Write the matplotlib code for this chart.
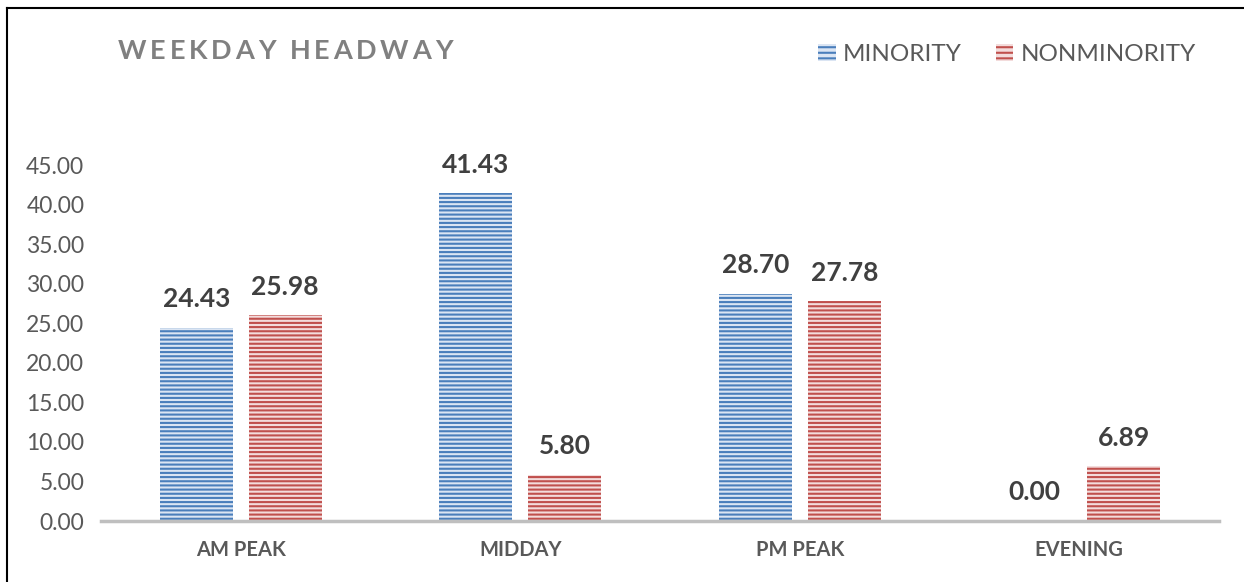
import matplotlib
matplotlib.use('Agg')
import matplotlib.pyplot as plt
from matplotlib.patches import Patch
from matplotlib.lines import Line2D
import numpy as np

# --- data ---
categories = ['AM PEAK', 'MIDDAY', 'PM PEAK', 'EVENING']
minority = [24.43, 41.43, 28.70, 0.00]
nonminority = [25.98, 5.80, 27.78, 6.89]
series_names = ['MINORITY', 'NONMINORITY']
yticks = [0, 5, 10, 15, 20, 25, 30, 35, 40, 45]
title = 'WEEKDAY HEADWAY'

BLUE, BLUE_BG = '#4a7ebb', '#dbe5f3'
RED, RED_BG = '#c0504d', '#f3dcdc'

plt.rcParams['font.family'] = ['Lato', 'DejaVu Sans']
plt.rcParams['hatch.linewidth'] = 1.5

W, H = 1244, 582
fig = plt.figure(figsize=(W / 100, H / 100), dpi=100)
ax = fig.add_axes([101 / W, 1 - 521 / H, (1219 - 101) / W, (521 - 165) / H])

x = np.arange(len(categories))
bw, off = 0.26, 0.159
b1 = ax.bar(x - off, minority, bw, facecolor=BLUE_BG, edgecolor=BLUE, hatch='----', linewidth=0)
b2 = ax.bar(x + off, nonminority, bw, facecolor=RED_BG, edgecolor=RED, hatch='----', linewidth=0)

for bars in (b1, b2):
    for r in bars:
        ax.annotate(f'{r.get_height():.2f}', (r.get_x() + r.get_width() / 2, r.get_height()),
                    xytext=(0, 12), textcoords='offset points', ha='center', va='bottom',
                    fontsize=19, fontweight='bold', color='#404040')

ax.set_xlim(-0.5, len(categories) - 0.5)
ax.set_ylim(0, 45)
ax.set_yticks(yticks)
ax.set_yticklabels([f'{v:.2f}' for v in yticks], fontsize=16.5, color='#595959')
ax.set_xticks(x)
ax.set_xticklabels(categories, fontsize=14.5, fontweight='bold', color='#595959')
ax.tick_params(length=0)
ax.tick_params(axis='y', pad=12)
ax.tick_params(axis='x', pad=14)
for s in ('top', 'right', 'left'):
    ax.spines[s].set_visible(False)
ax.spines['bottom'].set_color('#bfbfbf')
ax.spines['bottom'].set_linewidth(2.5)

# legend
handles = [Patch(facecolor=BLUE_BG, edgecolor=BLUE, hatch='---', linewidth=0),
           Patch(facecolor=RED_BG, edgecolor=RED, hatch='---', linewidth=0)]
leg = fig.legend(handles, series_names, loc='upper right', bbox_to_anchor=(1196 / W, 1 - 44 / H),
                 ncol=2, frameon=False, fontsize=17.5, handlelength=0.72, handleheight=0.7,
                 handletextpad=0.3, columnspacing=1.4, borderaxespad=0, borderpad=0)
for t in leg.get_texts():
    t.set_color('#595959')

# letter-spaced title
renderer = fig.canvas.get_renderer()
tx = 118 / W
for ch in title:
    t = fig.text(tx, 1 - 59 / H, ch, fontsize=19.5, fontweight='bold', color='#808080',
                 ha='left', va='baseline')
    w = t.get_window_extent(renderer).width
    if ch == ' ':
        w = 6
    tx += (w + 3.8) / W

# outer frame lines (left and top)
fig.add_artist(Line2D([7 / W, 7 / W], [0, 1 - 8 / H], color='black', lw=1.5))
fig.add_artist(Line2D([7 / W, 1], [1 - 8 / H, 1 - 8 / H], color='black', lw=1.5))

fig.savefig('out.png', dpi=100)
